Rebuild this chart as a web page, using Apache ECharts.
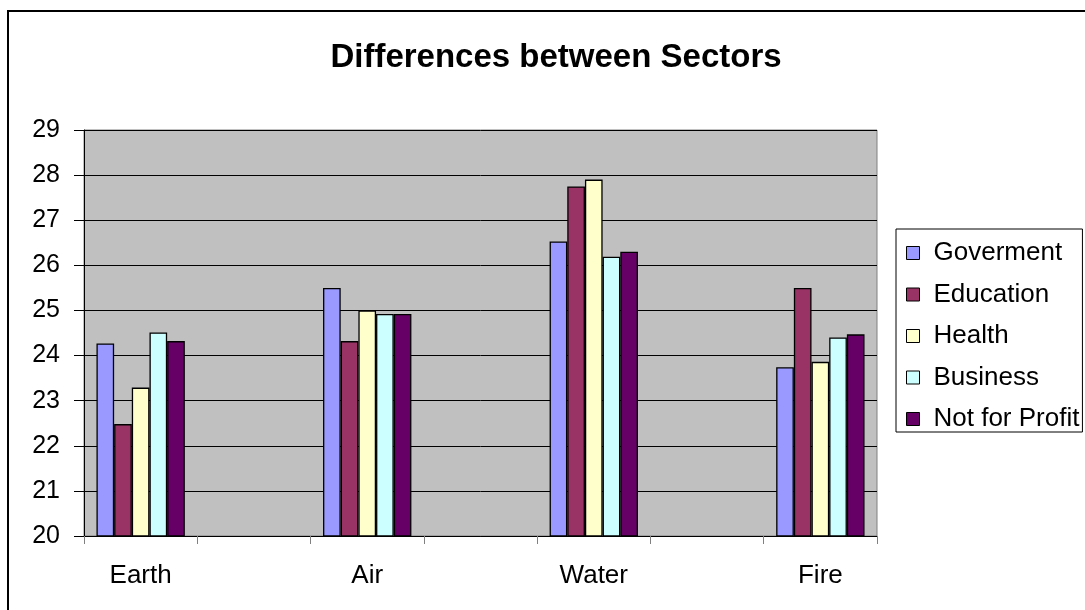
<!DOCTYPE html>
<html>
<head>
<meta charset="utf-8">
<script src="https://cdn.jsdelivr.net/npm/echarts@6/dist/echarts.min.js"></script>
<style>
html,body{margin:0;padding:0;background:#fff;}
#chart{width:1085px;height:610px;}
</style>
</head>
<body>
<div id="chart"></div>
<script>
const categories = ['Earth', '', 'Air', '', 'Water', '', 'Fire'];
const seriesNames = ['Goverment', 'Education', 'Health', 'Business', 'Not for Profit'];
const goverment   = [24.27, null, 25.50, null, 26.53, null, 23.74];
const education   = [22.48, null, 24.32, null, 27.75, null, 25.50];
const health      = [23.29, null, 25.00, null, 27.90, null, 23.86];
const business    = [24.51, null, 24.92, null, 26.19, null, 24.40];
const notForProfit= [24.32, null, 24.92, null, 26.30, null, 24.47];
const yTicks = [20, 21, 22, 23, 24, 25, 26, 27, 28, 29];

const colors = ['#9999FF', '#993366', '#FFFFCC', '#CCFFFF', '#660066'];
const values = [goverment, education, health, business, notForProfit];
const font = '"Liberation Sans", Arial, sans-serif';

const chart = echarts.init(document.getElementById('chart'));
chart.setOption({
  animation: false,
  color: colors,
  title: {
    text: 'Differences between Sectors',
    left: 551, top: 36, textAlign: 'center',
    textStyle: { fontFamily: font, fontSize: 33, fontWeight: 'bold', color: '#000' }
  },
  graphic: [{
    type: 'polyline',
    shape: { points: [[8, 620], [8, 11], [1100, 11]] },
    style: { stroke: '#000', lineWidth: 2, fill: null }
  }],
  legend: {
    orient: 'vertical',
    left: 896, top: 229,
    padding: [11, 3, 0, 10],
    itemGap: 15.5,
    itemWidth: 13, itemHeight: 13,
    icon: 'rect',
    borderColor: '#000', borderWidth: 1,
    itemStyle: { borderColor: '#000', borderWidth: 1 },
    textStyle: { fontFamily: font, fontSize: 26, color: '#000', padding: [0, 0, 0, 9] },
    data: seriesNames
  },
  grid: {
    left: 84, right: 208, top: 130, bottom: 74,
    show: true, backgroundColor: '#C0C0C0', borderColor: '#808080', borderWidth: 1
  },
  xAxis: {
    type: 'category',
    data: categories,
    axisLine: { lineStyle: { color: '#000', width: 1 } },
    axisTick: { show: true, length: 8, lineStyle: { color: '#808080' }, interval: 0 },
    axisLabel: { interval: 0, fontFamily: font, fontSize: 26, color: '#000', margin: 27 }
  },
  yAxis: {
    type: 'value',
    min: yTicks[0], max: yTicks[yTicks.length - 1], interval: 1,
    axisLine: { show: true, lineStyle: { color: '#000', width: 1 } },
    axisTick: { show: true, length: 10, lineStyle: { color: '#000' } },
    axisLabel: { fontFamily: font, fontSize: 25, color: '#000', margin: 24 },
    splitLine: { show: true, lineStyle: { color: '#000', width: 1 } }
  },
  series: seriesNames.map((name, i) => ({
    name: name,
    type: 'bar',
    data: values[i],
    barGap: '0%',
    barCategoryGap: '22%',
    itemStyle: { color: colors[i], borderColor: '#000', borderWidth: 1.3 }
  }))
});
</script>
</body>
</html>
